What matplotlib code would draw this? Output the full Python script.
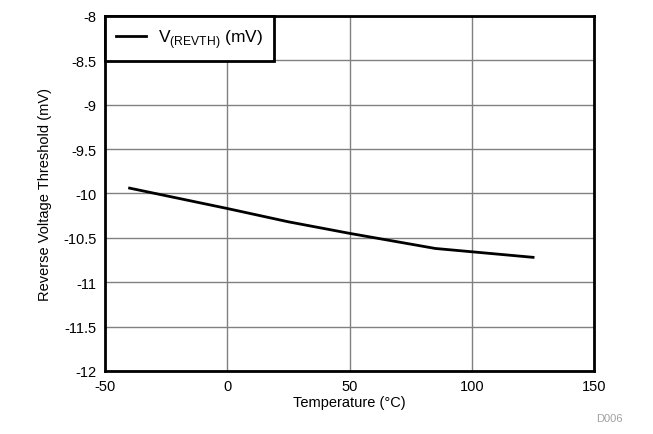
import matplotlib
matplotlib.use("Agg")
import matplotlib.pyplot as plt

plt.rcParams['font.family'] = ['Liberation Sans', 'DejaVu Sans']
plt.rcParams['axes.unicode_minus'] = False

# temperature (°C) vs reverse voltage threshold (mV)
temperature = [-40, 0, 25, 50, 85, 125]
v_revth = [-9.94, -10.17, -10.32, -10.45, -10.62, -10.72]

x_ticks = [-50, 0, 50, 100, 150]
y_ticks = [-12, -11.5, -11, -10.5, -10, -9.5, -9, -8.5, -8]
y_labels = ['-12', '-11.5', '-11', '-10.5', '-10', '-9.5', '-9', '-8.5', '-8']

fig = plt.figure(figsize=(6.53, 4.35), dpi=100)
ax = fig.add_axes([0.161, 0.145, 0.749, 0.816])

ax.plot(temperature, v_revth, color='black', lw=2, label=r'V$_{\mathregular{(REVTH)}}$ (mV)')

ax.set_xlim(-50, 150)
ax.set_ylim(-12, -8)
ax.set_xticks(x_ticks)
ax.set_yticks(y_ticks)
ax.set_yticklabels(y_labels)
ax.tick_params(length=0, labelsize=10.5, pad=6)
ax.grid(True, color='#808080', lw=1)
ax.set_axisbelow(True)
for s in ax.spines.values():
    s.set_linewidth(2)
    s.set_color('black')

ax.set_xlabel('Temperature (°C)', fontsize=10.5, labelpad=1)
ax.set_ylabel('Reverse Voltage Threshold (mV)', fontsize=10.5, labelpad=8)

leg = ax.legend(loc='upper left', fontsize=12.5, frameon=True, fancybox=False,
                framealpha=1, borderaxespad=0, handlelength=1.7, borderpad=0.65,
                handletextpad=0.7)
leg.get_frame().set_edgecolor('black')
leg.get_frame().set_linewidth(2)

fig.text(0.953, 0.03, 'D006', fontsize=8, color='#a0a0a0', ha='right')

fig.savefig('out.png', dpi=100)
